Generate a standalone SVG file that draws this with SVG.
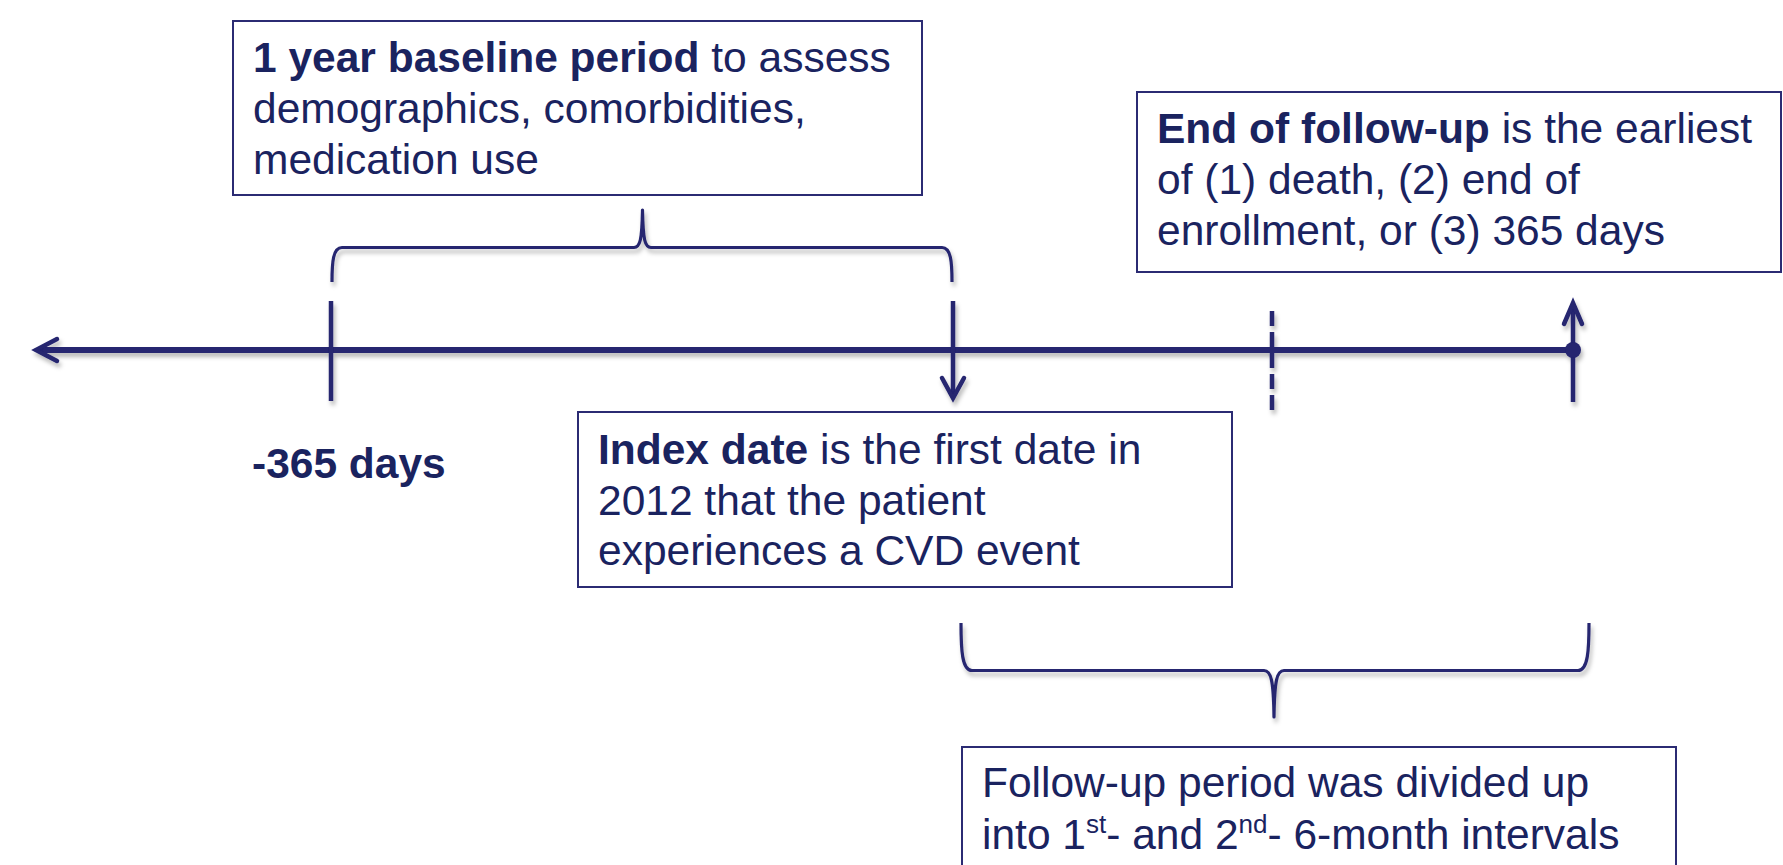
<svg xmlns="http://www.w3.org/2000/svg" width="1783" height="865" viewBox="0 0 1783 865">
  <style>
    .box { fill: #ffffff; stroke: #2b2b73; stroke-width: 2; }
    .txt { font-family: "Liberation Sans", Arial, sans-serif; font-size: 42.5px; fill: #1a235f; }
    .b { font-weight: bold; }
    .sup { font-size: 26px; }
    .ln { fill: none; stroke: #25256f; stroke-linecap: butt; }
    .axis { stroke-width: 6; }
    .tick { stroke-width: 4.5; }
    .head { stroke-width: 4.5; stroke-linejoin: miter; stroke-linecap: round; }
    .brace { stroke-width: 3.2; stroke-linejoin: round; }
  </style>
  <defs>
    <filter id="shadow" x="-5%" y="-20%" width="110%" height="150%">
      <feDropShadow dx="2" dy="4" stdDeviation="2" flood-color="#000000" flood-opacity="0.28"/>
    </filter>
  </defs>

  <rect width="1783" height="865" fill="#ffffff"/>

  <!-- timeline axis, ticks, arrowheads and braces -->
  <g id="connectors" filter="url(#shadow)">
    <line class="ln axis" x1="37" y1="350" x2="1573" y2="350"/>
    <polyline class="ln head" points="57,339 36,350 57,361"/>

    <line class="ln tick" x1="331" y1="301" x2="331" y2="401"/>

    <line class="ln tick" x1="953" y1="301" x2="953" y2="397"/>
    <polyline class="ln head" points="942,378 953,398 964,378"/>

    <line class="ln tick" x1="1272" y1="311" x2="1272" y2="411" stroke-dasharray="15 6"/>

    <line class="ln tick" x1="1573" y1="304" x2="1573" y2="402"/>
    <polyline class="ln head" points="1564,324 1573,303 1582,324"/>
    <circle cx="1573" cy="350" r="8" fill="#25256f"/>

    <path class="ln brace" d="M332,282 C332,262 333,247.5 342,247.5 L634,247.5 C640,247.5 642,240 642.5,210 C643,240 645,247.5 651,247.5 L942,247.5 C951,247.5 952,262 952,282"/>
    <path class="ln brace" d="M961,623 C961,650 962,670.5 972,670.5 L1264,670.5 C1271,670.5 1273.5,680 1274,717 C1274.5,680 1277,670.5 1284,670.5 L1578,670.5 C1588,670.5 1589,650 1589,623"/>
  </g>

  <g id="baseline-box">
    <rect class="box" x="233" y="21" width="689" height="174"/>
    <text class="txt" x="253" y="72"><tspan class="b">1 year baseline period</tspan> to assess</text>
    <text class="txt" x="253" y="122.5">demographics, comorbidities,</text>
    <text class="txt" x="253" y="174">medication use</text>
  </g>

  <g id="end-box">
    <rect class="box" x="1137" y="92" width="644" height="180"/>
    <text class="txt" x="1157" y="143"><tspan class="b">End of follow-up</tspan> is the earliest</text>
    <text class="txt" x="1157" y="194">of (1) death, (2) end of</text>
    <text class="txt" x="1157" y="245">enrollment, or (3) 365 days</text>
  </g>

  <g id="start-label">
    <text class="txt b" x="252" y="478">-365 days</text>
  </g>

  <g id="index-box">
    <rect class="box" x="578" y="412" width="654" height="175"/>
    <text class="txt" x="598" y="464"><tspan class="b">Index date</tspan> is the first date in</text>
    <text class="txt" x="598" y="514.5">2012 that the patient</text>
    <text class="txt" x="598" y="565">experiences a CVD event</text>
  </g>

  <g id="followup-box">
    <rect class="box" x="962" y="747" width="714" height="130"/>
    <text class="txt" x="982" y="797">Follow-up period was divided up</text>
    <text class="txt" x="982" y="849">into 1<tspan class="sup" dy="-16">st</tspan><tspan dy="16">- and 2</tspan><tspan class="sup" dy="-16">nd</tspan><tspan dy="16">- 6-month intervals</tspan></text>
  </g>
</svg>
